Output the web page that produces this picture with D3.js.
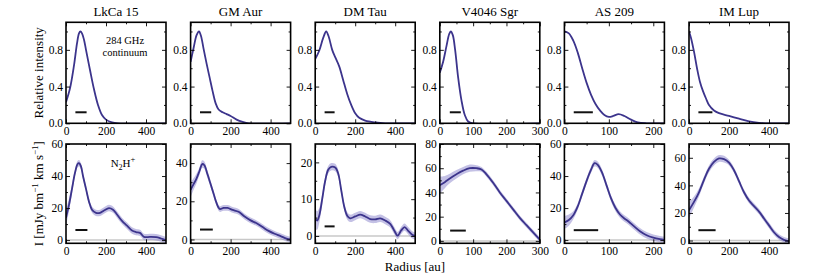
<!DOCTYPE html>
<html>
<head>
<meta charset="utf-8">
<script src="https://cdn.jsdelivr.net/npm/d3@7"></script>
<style>
  body { margin: 0; background: #fff; }
  svg text { font-family: "Liberation Serif", "DejaVu Serif", serif; fill: #000; }
  .axis path { display: none; }
  .axis line { stroke: #000; stroke-width: 0.9; }
  .axis text { font-size: 11.5px; }
</style>
</head>
<body>
<svg id="fig" width="830" height="277"></svg>
<script>
// disk names and radial extent of each panel [au]
const targets = ["LkCa 15", "GM Aur", "DM Tau", "V4046 Sgr", "AS 209", "IM Lup"];
const rMax = [500, 500, 500, 300, 225, 500];
const rMajor = [[0, 200, 400], [0, 200, 400], [0, 200, 400], [0, 100, 200, 300], [0, 100, 200], [0, 200, 400]];
const rMinor = [[100, 300], [100, 300], [100, 300], [50, 150, 250], [50, 150], [100, 300]];

// 284 GHz continuum, normalised profiles [r, I/Imax]
const contLkCa15 = [[0,0.23],[20,0.38],[40,0.63],[55,0.87],[65,0.98],[72,1.0],[80,0.98],[90,0.91],[100,0.8],[120,0.58],[140,0.37],[160,0.2],[180,0.09],[200,0.04],[230,0.01],[260,0.0],[500,0]];
const contGMAur = [[0,0.67],[15,0.82],[30,0.96],[42,1.0],[52,0.95],[65,0.81],[80,0.65],[95,0.5],[110,0.35],[125,0.22],[140,0.15],[160,0.12],[180,0.1],[200,0.08],[230,0.04],[260,0.015],[290,0.0],[500,0]];
const contDMTau = [[0,0.7],[20,0.79],[40,0.93],[55,1.0],[68,0.94],[85,0.8],[100,0.72],[120,0.62],[140,0.47],[160,0.32],[180,0.2],[200,0.11],[220,0.06],[250,0.03],[300,0.01],[350,0],[500,0]];
const contV4046 = [[0,0.55],[10,0.67],[20,0.84],[28,0.97],[33,1.0],[39,0.96],[46,0.8],[55,0.5],[65,0.25],[75,0.09],[85,0.02],[100,0],[300,0]];
const contAS209 = [[0,1.0],[10,0.98],[20,0.9],[30,0.77],[40,0.6],[50,0.44],[60,0.31],[70,0.21],[80,0.14],[90,0.09],[100,0.07],[110,0.08],[122,0.1],[135,0.08],[150,0.04],[165,0.01],[185,0],[225,0]];
const contIMLup = [[0,1.0],[10,0.93],[25,0.78],[40,0.6],[55,0.45],[70,0.35],[85,0.27],[100,0.2],[125,0.14],[150,0.11],[200,0.08],[250,0.05],[300,0.02],[350,0.005],[400,0],[500,0]];

// N2H+ radial profiles [r, I, 1-sigma] in mJy/beam km/s
const n2hLkCa15 = [[0,14,5],[15,22,4],[30,32,3],[45,42,2],[58,47.5,2],[65,48,2],[75,46,2],[85,40,2],[100,32,2],[115,24,2],[130,19,2],[150,17,2],[170,17,2],[190,18.5,2],[215,20,2],[235,19,2],[255,16,2],[280,12,2],[305,9,2],[330,6,2],[350,5,2],[370,4.5,2],[390,2,2],[420,2,2],[450,1.8,2],[475,1,2],[500,0,2]];
const n2hGMAur = [[0,26,4],[15,29,3],[30,32,2.5],[45,36,2],[58,39.5,2],[68,39,2],[85,34,2],[100,29,1.8],[115,24,1.6],[130,19,1.5],[145,16,1.5],[165,16.5,1.5],[185,16.5,1.5],[210,15.5,1.5],[240,14.5,1.5],[270,12,1.5],[300,10,1.5],[330,8.5,1.5],[360,6.5,1.5],[390,4.5,1.5],[420,3,1.5],[450,1.8,1.5],[480,0.5,1.5],[500,0,1.5]];
const n2hDMTau = [[0,4.8,3],[10,4.2,2.5],[20,5.5,2],[35,10,1.5],[50,15,1.2],[65,18,1],[80,18.8,1],[100,18.6,1],[115,17,1],[130,12.5,1],[145,8,1],[160,5.5,1],[175,4.8,1],[200,5.3,1],[225,5.8,1],[250,5.3,1],[275,4.6,1],[300,4.5,1],[325,4.8,1],[350,4.2,1],[375,3.3,1],[395,1.5,1],[412,0.1,1],[430,1.5,1],[447,2.4,1],[465,1.4,1],[485,0.3,1],[500,0,1]];
const n2hV4046 = [[0,46,7],[15,48.5,5],[30,51.5,4],[50,55,3.5],[70,58,3],[90,60,3],[110,60,2.5],[125,59,2],[140,55,2],[160,48,2],[180,40,2],[200,33,2],[220,26,2],[240,19,2],[260,13,2],[280,7,2],[300,1,2]];
const n2hAS209 = [[0,11,4],[10,12.5,3.5],[20,15.5,2.5],[30,21,2],[40,29,2],[50,37,2],[60,44,2],[68,48,2],[75,47,2],[85,42,2],[95,34,2],[105,26,2],[115,20,2],[125,16,2],[135,13.5,2],[145,11.5,2],[155,9,2],[170,5.5,2],[185,3,2],[200,1.5,2],[215,0.6,2],[225,0.2,2]];
const n2hIMLup = [[0,22,6],[25,28,4],[50,35,3],[75,44,2.5],[100,52,2.5],[125,57,2.5],[150,59.5,2.5],[175,59,2.5],[200,56.5,2],[225,51,2],[250,43,2],[275,35,2],[300,29,2],[325,25,2],[350,21,2],[375,16,2],[400,11,2],[425,6,2],[450,2.5,2],[475,0.5,2],[500,-0.5,2]];

const n2hYMax = [60, 50, 25, 80, 60, 70];
const n2hYMajor = [[0,20,40,60], [0,20,40], [0,10,20], [0,20,40,60,80], [0,20,40,60], [0,20,40,60]];
const n2hYMinor = [[10,30,50], [10,30], [5,15], [10,30,50,70], [10,30,50], [10,30,50]];
const contYMajor = [0, 0.4, 0.8];
const contYMinor = [0.2, 0.6, 1.0];

// beam sizes [r0, r1] and the level they are drawn at
const contBeams = [[47,103],[47,103],[47,97],[30,63],[21,64],[47,117]];
const n2hBeams = [[47,107],[47,111],[47,97],[31,78],[21,76],[47,133]];
const n2hBeamLevel = [6.3, 5.2, 2.6, 8.5, 6.2, 7.5];

const contProfiles = [contLkCa15, contGMAur, contDMTau, contV4046, contAS209, contIMLup];
const n2hProfiles = [n2hLkCa15, n2hGMAur, n2hDMTau, n2hV4046, n2hAS209, n2hIMLup];

const lineColor = "#3c348c";
const bandColor = "#8a84cc";
const smooth = d3.curveCatmullRom.alpha(0.5);

const svg = d3.select("#fig");
const pw = 100, left0 = 66, step = 124.6;
const rows = [{top: 22.3, h: 101}, {top: 144, h: 99.3}];

function axes(g, x, y, w, h, xMaj, xMin, yMaj, yMin, yFmt) {
  g.append("g").attr("class", "axis").attr("transform", "translate(0," + h + ")")
    .call(d3.axisBottom(x).tickValues(xMaj).tickSizeInner(-4).tickSizeOuter(0).tickPadding(4).tickFormat(d3.format("d")));
  g.append("g").attr("class", "axis").attr("transform", "translate(0," + h + ")")
    .call(d3.axisBottom(x).tickValues(xMin).tickSizeInner(-2).tickSizeOuter(0).tickFormat(""));
  g.append("g").attr("class", "axis")
    .call(d3.axisTop(x).tickValues(xMaj).tickSizeInner(-4).tickSizeOuter(0).tickFormat(""));
  g.append("g").attr("class", "axis")
    .call(d3.axisTop(x).tickValues(xMin).tickSizeInner(-2).tickSizeOuter(0).tickFormat(""));
  g.append("g").attr("class", "axis")
    .call(d3.axisLeft(y).tickValues(yMaj).tickSizeInner(-4).tickSizeOuter(0).tickPadding(3).tickFormat(yFmt));
  g.append("g").attr("class", "axis")
    .call(d3.axisLeft(y).tickValues(yMin).tickSizeInner(-2).tickSizeOuter(0).tickFormat(""));
  g.append("g").attr("class", "axis").attr("transform", "translate(" + w + ",0)")
    .call(d3.axisRight(y).tickValues(yMaj).tickSizeInner(-4).tickSizeOuter(0).tickFormat(""));
  g.append("g").attr("class", "axis").attr("transform", "translate(" + w + ",0)")
    .call(d3.axisRight(y).tickValues(yMin).tickSizeInner(-2).tickSizeOuter(0).tickFormat(""));
}

targets.forEach((name, i) => {
  const x = d3.scaleLinear().domain([0, rMax[i]]).range([0, pw]);

  // ---- top row: continuum
  let row = rows[0];
  let g = svg.append("g").attr("transform", "translate(" + (left0 + i * step) + "," + row.top + ")");
  let yc = d3.scaleLinear().domain([0, 1.1]).range([row.h, 0]);
  g.append("clipPath").attr("id", "clipc" + i).append("rect").attr("width", pw).attr("height", row.h);

  g.append("path")
    .datum(contProfiles[i])
    .attr("clip-path", "url(#clipc" + i + ")")
    .attr("fill", "none")
    .attr("stroke", lineColor)
    .attr("stroke-width", 1.8)
    .attr("d", d3.line().x(d => x(d[0])).y(d => yc(Math.max(d[1], 0))).curve(smooth));

  g.append("line")
    .attr("x1", x(contBeams[i][0])).attr("x2", x(contBeams[i][1]))
    .attr("y1", yc(0.12)).attr("y2", yc(0.12))
    .attr("stroke", "#111").attr("stroke-width", 2);

  axes(g, x, yc, pw, row.h, rMajor[i], rMinor[i], contYMajor, contYMinor, d3.format(".1f"));
  g.append("rect").attr("width", pw).attr("height", row.h)
    .attr("fill", "none").attr("stroke", "#000").attr("stroke-width", 1.6);

  g.append("text").attr("x", pw / 2).attr("y", -6).attr("text-anchor", "middle")
    .style("font-size", "13px").text(name);

  if (i === 0) {
    g.append("text").attr("x", 59).attr("y", 22).attr("text-anchor", "middle")
      .style("font-size", "10.5px").text("284 GHz");
    g.append("text").attr("x", 59).attr("y", 34).attr("text-anchor", "middle")
      .style("font-size", "10.5px").text("continuum");
  }

  // ---- bottom row: N2H+
  row = rows[1];
  g = svg.append("g").attr("transform", "translate(" + (left0 + i * step) + "," + row.top + ")");
  const yn = d3.scaleLinear().domain([-2, n2hYMax[i]]).range([row.h, 0]);
  g.append("clipPath").attr("id", "clipn" + i).append("rect").attr("width", pw).attr("height", row.h);

  g.append("line")
    .attr("x1", 0).attr("x2", pw).attr("y1", yn(0)).attr("y2", yn(0))
    .attr("stroke", "#c8c8c8").attr("stroke-width", 1.5);

  g.append("path")
    .datum(n2hProfiles[i])
    .attr("clip-path", "url(#clipn" + i + ")")
    .attr("fill", bandColor)
    .attr("fill-opacity", 0.5)
    .attr("d", d3.area().x(d => x(d[0])).y0(d => yn(d[1] - d[2])).y1(d => yn(d[1] + d[2])).curve(smooth));

  g.append("path")
    .datum(n2hProfiles[i])
    .attr("clip-path", "url(#clipn" + i + ")")
    .attr("fill", "none")
    .attr("stroke", lineColor)
    .attr("stroke-width", 1.8)
    .attr("d", d3.line().x(d => x(d[0])).y(d => yn(d[1])).curve(smooth));

  g.append("line")
    .attr("x1", x(n2hBeams[i][0])).attr("x2", x(n2hBeams[i][1]))
    .attr("y1", yn(n2hBeamLevel[i])).attr("y2", yn(n2hBeamLevel[i]))
    .attr("stroke", "#111").attr("stroke-width", 2);

  axes(g, x, yn, pw, row.h, rMajor[i], rMinor[i], n2hYMajor[i], n2hYMinor[i], d3.format("d"));
  g.append("rect").attr("width", pw).attr("height", row.h)
    .attr("fill", "none").attr("stroke", "#000").attr("stroke-width", 1.6);

  if (i === 0) {
    const t = g.append("text").attr("x", 57).attr("y", 23).attr("text-anchor", "middle")
      .style("font-size", "11px");
    t.append("tspan").text("N");
    t.append("tspan").attr("dy", 3).style("font-size", "8px").text("2");
    t.append("tspan").attr("dy", -3).text("H");
    t.append("tspan").attr("dy", -5).style("font-size", "8.5px").text("+");
  }
});

// axis titles
svg.append("text")
  .attr("transform", "translate(43," + (rows[0].top + rows[0].h / 2) + ") rotate(-90)")
  .attr("text-anchor", "middle").style("font-size", "13px")
  .text("Relative intensity");

const yl = svg.append("text")
  .attr("transform", "translate(43," + (rows[1].top + rows[1].h / 2) + ") rotate(-90)")
  .attr("text-anchor", "middle").style("font-size", "13px");
yl.append("tspan").text("I [mJy bm");
yl.append("tspan").attr("dy", -5).style("font-size", "9px").text("\u22121");
yl.append("tspan").attr("dy", 5).text(" km s");
yl.append("tspan").attr("dy", -5).style("font-size", "9px").text("\u22121");
yl.append("tspan").attr("dy", 5).text("]");

svg.append("text")
  .attr("x", 415).attr("y", 271).attr("text-anchor", "middle")
  .style("font-size", "13px").text("Radius [au]");
</script>
</body>
</html>
